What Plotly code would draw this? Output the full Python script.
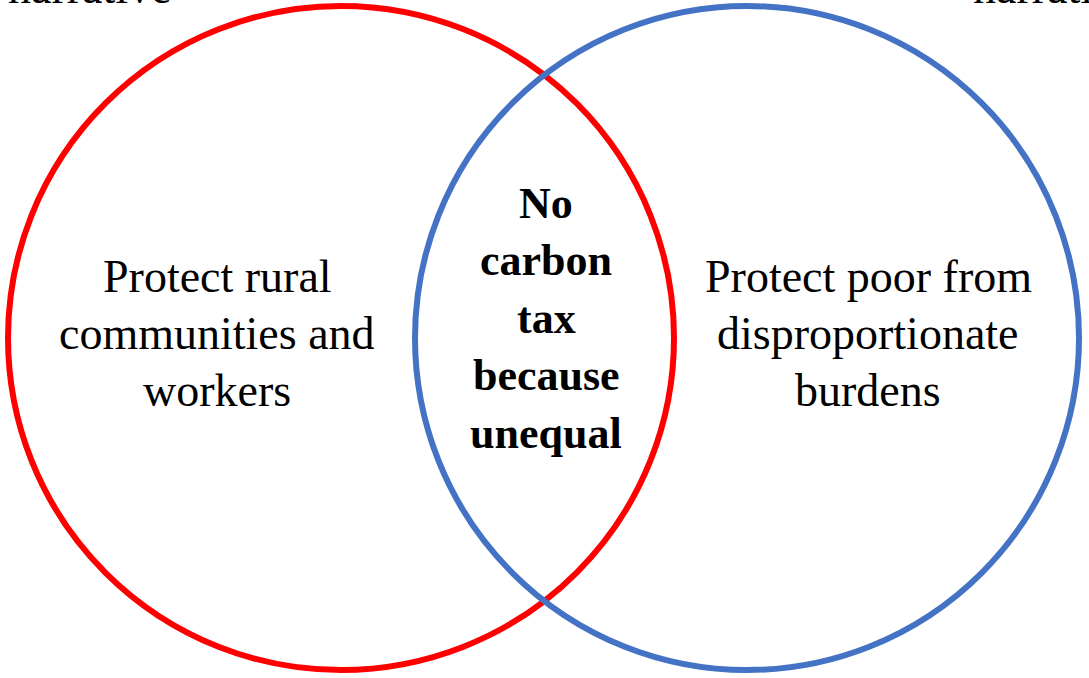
import plotly.graph_objects as go

left_lines = ["Protect rural", "communities and", "workers"]
right_lines = ["Protect poor from", "disproportionate", "burdens"]
center_lines = ["No", "carbon", "tax", "because", "unequal"]
top_labels = ["narrative", "narrative"]

W, H = 1089, 678
FONT = "Liberation Serif"

fig = go.Figure()
fig.update_layout(
    width=W, height=H, margin=dict(l=0, r=0, t=0, b=0),
    paper_bgcolor="white", plot_bgcolor="white", showlegend=False,
    xaxis=dict(range=[0, W], visible=False, fixedrange=True),
    yaxis=dict(range=[H, 0], visible=False, fixedrange=True),
)

# circles
fig.add_shape(type="circle", xref="x", yref="y", x0=8, x1=674, y0=6, y1=670,
              line=dict(color="#FF0000", width=6))
fig.add_shape(type="circle", xref="x", yref="y", x0=415, x1=1079, y0=6, y1=670,
              line=dict(color="#4472C4", width=6))

def add_lines(lines, cx, y0, dy, bold=False, size=46):
    for i, t in enumerate(lines):
        txt = f"<b>{t}</b>" if bold else t
        fig.add_annotation(x=cx, y=y0 + i * dy, xref="x", yref="y", text=txt,
                           showarrow=False, xanchor="center", yanchor="middle",
                           font=dict(family=FONT, size=size, color="black"))

add_lines(left_lines, 217, 276, 57)
add_lines(right_lines, 868, 276, 57)
add_lines(center_lines, 546, 203, 57.5, bold=True, size=44)

# labels above the circles, partly cut off by the top edge as in the reference
for lbl, cx in zip(top_labels, [89, 1054]):
    fig.add_annotation(x=cx / W, y=1 + 12 / H, xref="paper", yref="paper", text=lbl,
                       showarrow=False, xanchor="center", yanchor="middle",
                       font=dict(family=FONT, size=46, color="black"))

fig.write_html("out.html", config={"displayModeBar": False},
               post_script="document.body.style.margin='0';")
